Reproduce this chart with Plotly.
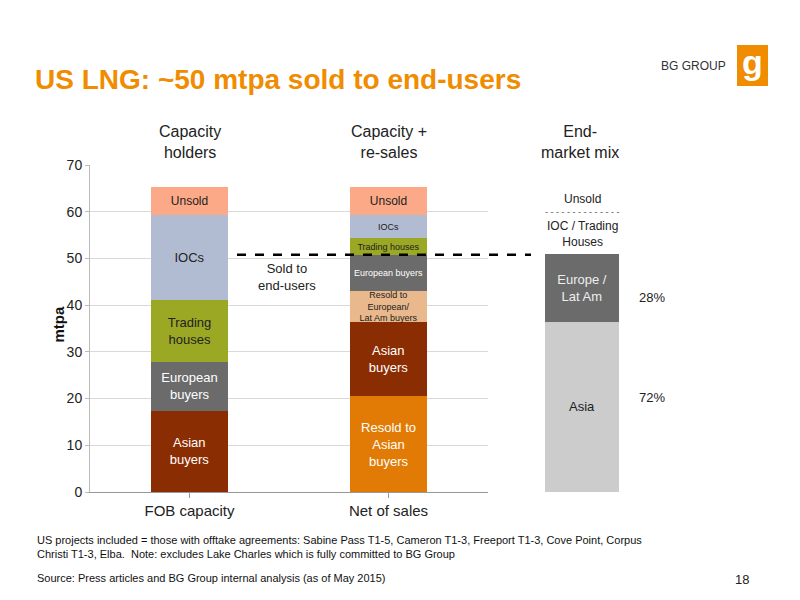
import plotly.graph_objects as go

# data (mtpa), bottom to top
cats = ["FOB capacity", "Net of sales"]
resold_asian = [0, 20.5]
asian = [17.4, 15.9]
resold_eur = [0, 6.6]
european = [10.4, 7.8]
trading = [13.4, 3.5]
iocs = [18.2, 5.0]
unsold = [5.9, 6.0]
sold_end_users = 50.8

mix_cat = ["End-market mix"]
mix_asia = [36.4]
mix_europe = [14.6]
mix_pct = ["72%", "28%"]

series = [
    ("Resold to Asian buyers", resold_asian, "#E27B06", ["", "Resold to<br>Asian<br>buyers"], [13, 13], "white"),
    ("Asian buyers", asian, "#8B2D02", ["Asian<br>buyers", "Asian<br>buyers"], [13, 13], "white"),
    ("Resold to European/Lat Am buyers", resold_eur, "#E9B88C", ["", "Resold to<br>European/<br>Lat Am buyers"], [9, 9], "#222"),
    ("European buyers", european, "#6B6B6B", ["European<br>buyers", "European buyers"], [13, 9], "white"),
    ("Trading houses", trading, "#9BA823", ["Trading<br>houses", "Trading houses"], [13, 9], "#222"),
    ("IOCs", iocs, "#B1BBD1", ["IOCs", "IOCs"], [13, 9], "#222"),
    ("Unsold", unsold, "#FBA987", ["Unsold", "Unsold"], [12, 12], "#222"),
]

fig = go.Figure()
for name, vals, col, txt, sz, tc in series:
    fig.add_bar(x=cats, y=vals, name=name, marker=dict(color=col, line=dict(width=0)),
                text=txt, textposition="inside", insidetextanchor="middle",
                textangle=0, constraintext="none", textfont=dict(size=sz, color=tc),
                width=0.39, hoverinfo="name+y")

fig.add_bar(x=mix_cat, y=mix_asia, xaxis="x2", yaxis="y2", marker=dict(color="#CCCCCC", line=dict(width=0)),
            text=["Asia"], textposition="inside", insidetextanchor="middle", textangle=0,
            constraintext="none", textfont=dict(size=13, color="#222"), width=0.6)
fig.add_bar(x=mix_cat, y=mix_europe, xaxis="x2", yaxis="y2", marker=dict(color="#6B6B6B", line=dict(width=0)),
            text=["Europe /<br>Lat Am"], textposition="inside", insidetextanchor="middle", textangle=0,
            constraintext="none", textfont=dict(size=13, color="#EEEEEE"), width=0.6)

fig.add_shape(type="line", xref="paper", yref="y", x0=237/800, x1=531/800,
              y0=sold_end_users, y1=sold_end_users, line=dict(color="black", width=2.5, dash="dash"))
# logo
fig.add_shape(type="rect", xref="paper", yref="paper", x0=737/800, x1=768/800,
              y0=1-86/600, y1=1-45/600, fillcolor="#F08C00", line=dict(width=0), layer="above")

ann = [
    ("<b>US LNG: ~50 mtpa sold to end-users</b>", 33, 80, 28, "#F08C00", "left"),
    ("BG GROUP", 728, 66, 12, "#333", "right"),
    ("<b>g</b>", 752, 62, 34, "white", "center"),
    ("Capacity<br>holders", 190, 142, 16, "#222", "center"),
    ("Capacity +<br>re-sales", 389, 142, 16, "#222", "center"),
    ("End-<br>market mix", 580, 142, 16, "#222", "center"),
    ("Sold to<br>end-users", 287, 277, 13, "#222", "center"),
    ("Unsold", 582, 199, 12, "#222", "center"),
    ("- - - - - - - - - - - - - -", 582, 212, 9, "#555", "center"),
    ("IOC / Trading<br>Houses", 582, 234, 12, "#222", "center"),
    (mix_pct[1], 652, 298, 13, "#222", "center"),
    (mix_pct[0], 652, 397, 13, "#222", "center"),
    ("US projects included = those with offtake agreements: Sabine Pass T1-5, Cameron T1-3, Freeport T1-3, Cove Point, Corpus<br>Christi T1-3, Elba.  Note: excludes Lake Charles which is fully committed to BG Group", 35, 547, 11, "#111", "left"),
    ("Source: Press articles and BG Group internal analysis (as of May 2015)", 35, 578, 11, "#111", "left"),
    ("18", 742, 579, 13, "#222", "center"),
]
for t, x, y, s, c, a in ann:
    fig.add_annotation(text=t, x=x/800, y=1-y/600, xref="paper", yref="paper", showarrow=False,
                       xanchor=a, yanchor="middle", align=a, font=dict(size=s, color=c))
fig.add_annotation(text="<b>mtpa</b>", x=47/800, y=1-325/600, xref="paper", yref="paper",
                   showarrow=False, textangle=-90, font=dict(size=15, color="#111"))

ydom = [1-492/600, 1-165/600]
fig.update_layout(
    width=800, height=600, barmode="stack", showlegend=False,
    margin=dict(l=0, r=0, t=0, b=0), plot_bgcolor="white", paper_bgcolor="white",
    font=dict(family="Liberation Sans, Arial", color="#222"),
    xaxis=dict(domain=[90/800, 488/800], showline=True, linecolor="#999", ticks="outside",
               tickcolor="#999", ticklen=5, tickfont=dict(size=15), showgrid=False, automargin=False),
    xaxis2=dict(domain=[520/800, 644/800], anchor="y2", visible=False),
    yaxis=dict(domain=ydom, range=[0, 70], dtick=10, showline=True, automargin=False,
               linecolor="#BBB", gridcolor="#D9D9D9", tickfont=dict(size=14), ticks="outside",
               tickcolor="#BBB", ticklen=4, zeroline=False),
    yaxis2=dict(domain=ydom, range=[0, 70], anchor="x2", visible=False, showgrid=False),
)
fig.write_html("out.html", config={"displayModeBar": False},
               post_script="document.body.style.margin='0';")
